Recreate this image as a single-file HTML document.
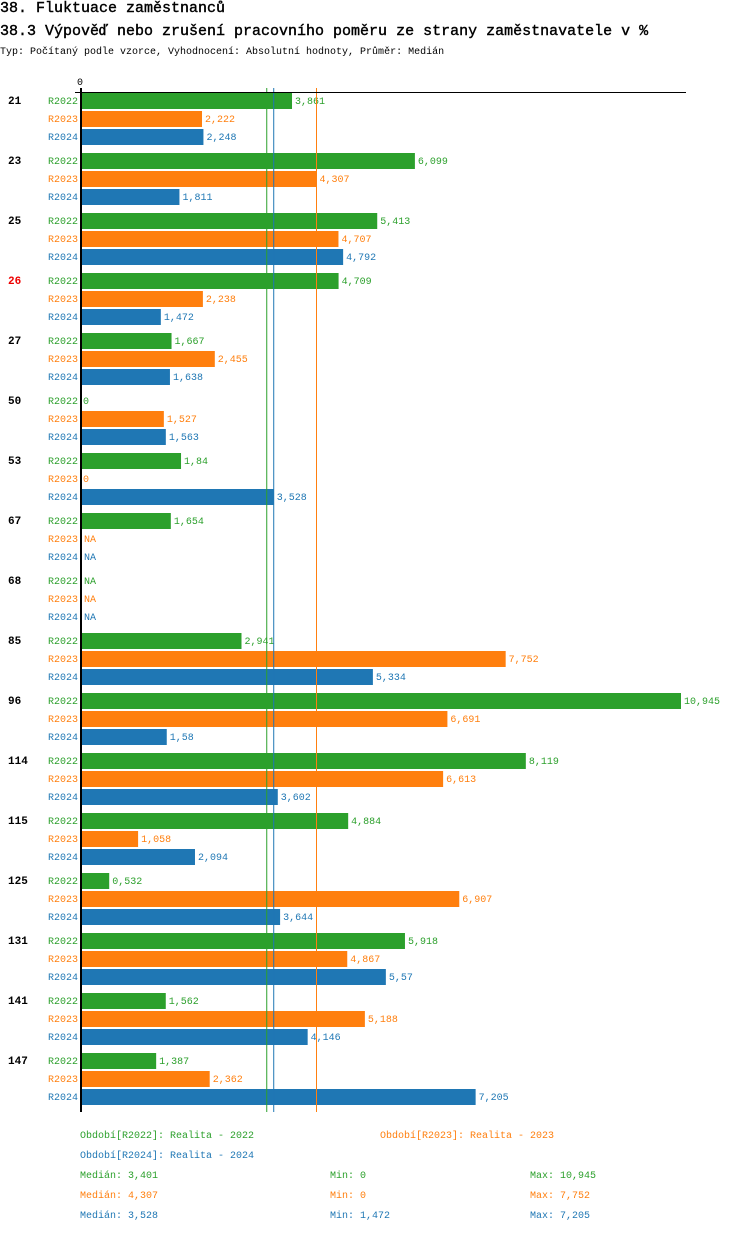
<!DOCTYPE html>
<html><head><meta charset="utf-8"><style>
body{margin:0;background:#fff;width:750px;height:1232px;overflow:hidden;font-family:"Liberation Mono",monospace}
svg text{font-family:"Liberation Mono","DejaVu Sans Mono",monospace}
</style></head><body>
<svg id="c" width="750" height="1232">
<text x="0" y="12" font-size="15" stroke="#000" stroke-width="0.4">38. Fluktuace zaměstnanců</text>
<text x="0" y="35" font-size="15" stroke="#000" stroke-width="0.4">38.3 Výpověď nebo zrušení pracovního poměru ze strany zaměstnavatele v %</text>
<text x="0" y="54" font-size="10">Typ: Počítaný podle vzorce, Vyhodnocení: Absolutní hodnoty, Průměr: Medián</text>
<text x="80" y="85" font-size="10" text-anchor="middle">0</text>
</svg>
<script>
const categories=["21","23","25","26","27","50","53","67","68","85","96","114","115","125","131","141","147"];
const highlighted=["26"];
const seriesNames=["R2022","R2023","R2024"];
const r2022=[3.861,6.099,5.413,4.709,1.667,0,1.84,1.654,null,2.941,10.945,8.119,4.884,0.532,5.918,1.562,1.387];
const r2023=[2.222,4.307,4.707,2.238,2.455,1.527,0,null,null,7.752,6.691,6.613,1.058,6.907,4.867,5.188,2.362];
const r2024=[2.248,1.811,4.792,1.472,1.638,1.563,3.528,null,null,5.334,1.58,3.602,2.094,3.644,5.57,4.146,7.205];
const medians=[3.401,4.307,3.528];
const mins=[0,0,1.472];
const maxs=[10.945,7.752,7.205];
const colors=["#2ca02c","#ff7f0e","#1f77b4"];
const svg=document.getElementById('c');
const NS="http://www.w3.org/2000/svg";
const x0=80,xMax=10.945,wMax=601;
function xs(v){return x0+v/xMax*wMax;}
function mk(t,a,txt){const e=document.createElementNS(NS,t);for(const k in a)e.setAttribute(k,a[k]);if(txt!==undefined)e.textContent=txt;svg.appendChild(e);return e;}
function fmt(v){return String(v).replace('.',',');}
const series=[r2022,r2023,r2024];
categories.forEach((c,i)=>{
  const base=92+i*60;
  const g=mk('text',{x:8,y:base+12,'font-size':11,'font-weight':'bold',fill:highlighted.includes(c)?'#e00':'#000'},c);
  
  
  series.forEach((s,j)=>{
    const y=base+1+j*18;
    const l=mk('text',{x:78,y:y+11,'font-size':10,'text-anchor':'end',fill:colors[j]},seriesNames[j]);
    
    
    const v=s[i];
    if(v===null){
      const t=mk('text',{x:84,y:y+11,'font-size':10,fill:colors[j]},'NA');
      
      
      return;
    }
    const r=mk('rect',{x:x0,y:y,width:xs(v)-x0,height:16,fill:colors[j]});
    
    
    const t=mk('text',{x:xs(v)+3,y:y+11,'font-size':10,fill:colors[j]},fmt(v));
    
    
  });
});
medians.forEach((m,j)=>{
  const ln=mk('line',{x1:xs(m),x2:xs(m),y1:88,y2:1112,stroke:colors[j],'stroke-width':1});
  
  
});
const ax=mk('line',{x1:81,x2:81,y1:88,y2:1112,stroke:'#000','stroke-width':2});


const tl=mk('line',{x1:75,x2:686,y1:92.5,y2:92.5,stroke:'#000','stroke-width':1});


const legends=[[80,1138,"Období[R2022]: Realita - 2022",0],[380,1138,"Období[R2023]: Realita - 2023",1],[80,1158,"Období[R2024]: Realita - 2024",2]];
legends.forEach(l=>{
  const t=mk('text',{x:l[0],y:l[1],'font-size':10,fill:colors[l[3]]},l[2]);
  
  
});
[0,1,2].forEach(j=>{
  const y=1178+j*20;
  const a=mk('text',{x:80,y:y,'font-size':10,fill:colors[j]},'Medián: '+fmt(medians[j]));
  
  
  const b=mk('text',{x:330,y:y,'font-size':10,fill:colors[j]},'Min: '+fmt(mins[j]));
  
  
  const d=mk('text',{x:530,y:y,'font-size':10,fill:colors[j]},'Max: '+fmt(maxs[j]));
  
  
});
</script>
</body></html>
